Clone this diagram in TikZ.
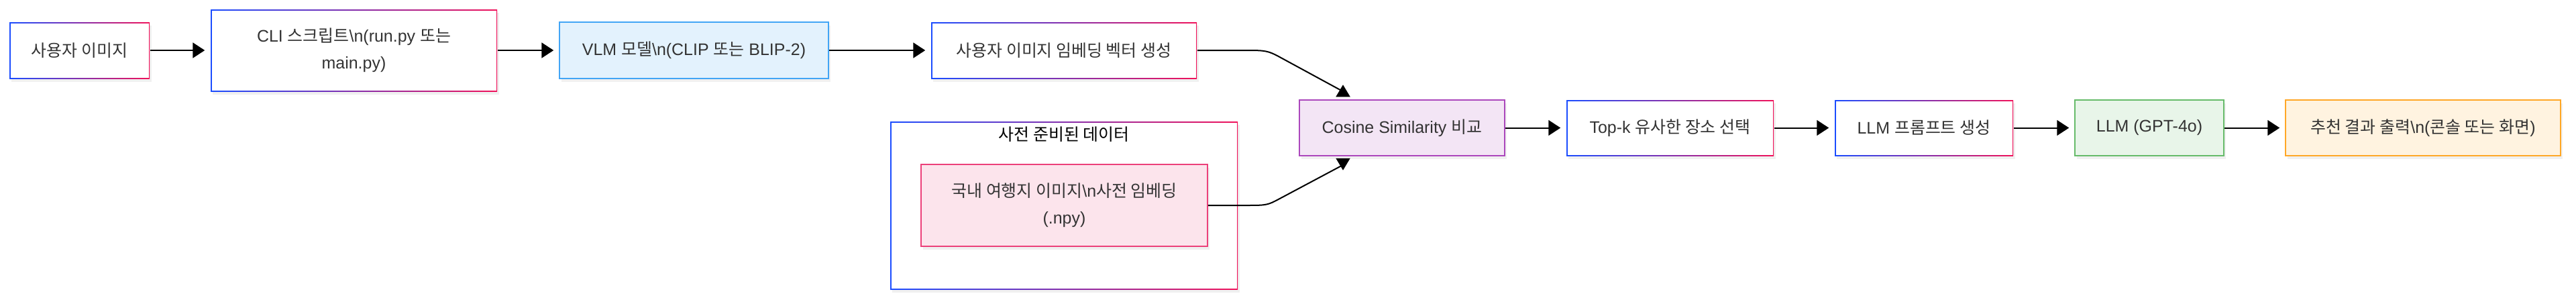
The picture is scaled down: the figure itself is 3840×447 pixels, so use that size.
\documentclass[tikz,border=0pt]{standalone}
\usepackage{fontspec}
\setmainfont{Liberation Sans}
\newfontfamily\krfont{Noto Sans CJK KR}[Scale=1.0]
\newcommand{\kr}[1]{{\krfont #1}}
\usetikzlibrary{arrows.meta,shadows,calc}

\definecolor{txt}{HTML}{333333}
\definecolor{gblue}{HTML}{1A4CFF}
\definecolor{gred}{HTML}{F0125A}
\definecolor{vlmline}{HTML}{42A5F5}
\definecolor{vlmfill}{HTML}{E3F2FD}
\definecolor{dataline}{HTML}{EC407A}
\definecolor{datafill}{HTML}{FCE4EC}
\definecolor{cosline}{HTML}{AB47BC}
\definecolor{cosfill}{HTML}{F3E5F5}
\definecolor{llmline}{HTML}{66BB6A}
\definecolor{llmfill}{HTML}{E8F5E9}
\definecolor{resline}{HTML}{FFA726}
\definecolor{resfill}{HTML}{FFF3E0}

\begin{document}
\begin{tikzpicture}[x=0.1mm,y=-0.1mm,
        font=\fontsize{7.1}{11.4}\selectfont,
        base/.style={rectangle, inner sep=0pt, text=txt, align=center, line width=0.15mm,
            drop shadow={shadow xshift=0.3mm, shadow yshift=-0.5mm, opacity=0.12}},
        gbox/.style={base, left color=gblue, right color=gred,
            path picture={\fill[white] ([shift={(0.15mm,0.15mm)}]path picture bounding box.south west)
                rectangle ([shift={(-0.15mm,-0.15mm)}]path picture bounding box.north east);}},
        cbox/.style 2 args={base, draw=#1, fill=#2},
        flow/.style={line width=0.2mm, -{Triangle[length=1.8mm,width=2.3mm]}, shorten >=0.8mm},
        back/.style={line width=0.2mm, -{Triangle[reversed,length=1.8mm,width=2.1mm]}}]
        \useasboundingbox (0,0) rectangle (3840,447);
        % top row
        \node[gbox, minimum width=20.9mm, minimum height=8.4mm] (img) at (118.5,75) {\kr{사용자 이미지}};
        \node[gbox, minimum width=42.7mm, minimum height=12.2mm] (cli) at (527.5,75) {CLI \kr{스크립트}\textbackslash n(run.py \kr{또는}\\main.py)};
        \node[cbox={vlmline}{vlmfill}, minimum width=40.1mm, minimum height=8.4mm] (vlm) at (1034.5,75) {VLM \kr{모델}\textbackslash n(CLIP \kr{또는} BLIP-2)};
        \node[gbox, minimum width=39.6mm, minimum height=8.4mm] (emb) at (1586,75) {\kr{사용자 이미지 임베딩 벡터 생성}};
        % prepared data
        \node[gbox, minimum width=51.8mm, minimum height=25mm] (prep) at (1586,306) {};
        \node[text=black] (preptitle) at (1586,200) {\kr{사전 준비된 데이터}};
        \node[cbox={dataline}{datafill}, minimum width=42.7mm, minimum height=12.2mm] (data) at (1586.5,306) {\kr{국내 여행지 이미지}\textbackslash n\kr{사전 임베딩}\\(.npy)};
        % second row
        \node[cbox={cosline}{cosfill}, minimum width=30.6mm, minimum height=8.3mm] (cos) at (2090,190.5) {Cosine Similarity \kr{비교}};
        \node[gbox, minimum width=30.9mm, minimum height=8.3mm] (topk) at (2489.5,190.5) {Top-k \kr{유사한 장소 선택}};
        \node[gbox, minimum width=26.6mm, minimum height=8.3mm] (prompt) at (2868,190.5) {LLM \kr{프롬프트 생성}};
        \node[cbox={llmline}{llmfill}, minimum width=22.2mm, minimum height=8.3mm] (llm) at (3204,190.5) {LLM (GPT-4o)};
        \node[cbox={resline}{resfill}, minimum width=41mm, minimum height=8.3mm] (result) at (3612,190.5) {\kr{추천 결과 출력}\textbackslash n(\kr{콘솔 또는 화면})};

        \draw[flow] (img) -- (cli);
        \draw[flow] (cli) -- (vlm);
        \draw[flow] (vlm) -- (emb);
        \draw[back] (emb.east) -- ++(76,0) .. controls +(25,0) and +(-15,-8) .. ++(45,9)
            -- ($(cos.north)+(-88,-12)$) -- ($(cos.north)+(-88,-4)$);
        \draw[back] (data.east) -- ++(62,0) .. controls +(25,0) and +(-15,8) .. ++(43,-9)
            -- ($(cos.south)+(-88,13)$) -- ($(cos.south)+(-88,3)$);
        \draw[flow] (cos) -- (topk);
        \draw[flow] (topk) -- (prompt);
        \draw[flow] (prompt) -- (llm);
        \draw[flow] (llm) -- (result);
    \end{tikzpicture}
\end{document}
